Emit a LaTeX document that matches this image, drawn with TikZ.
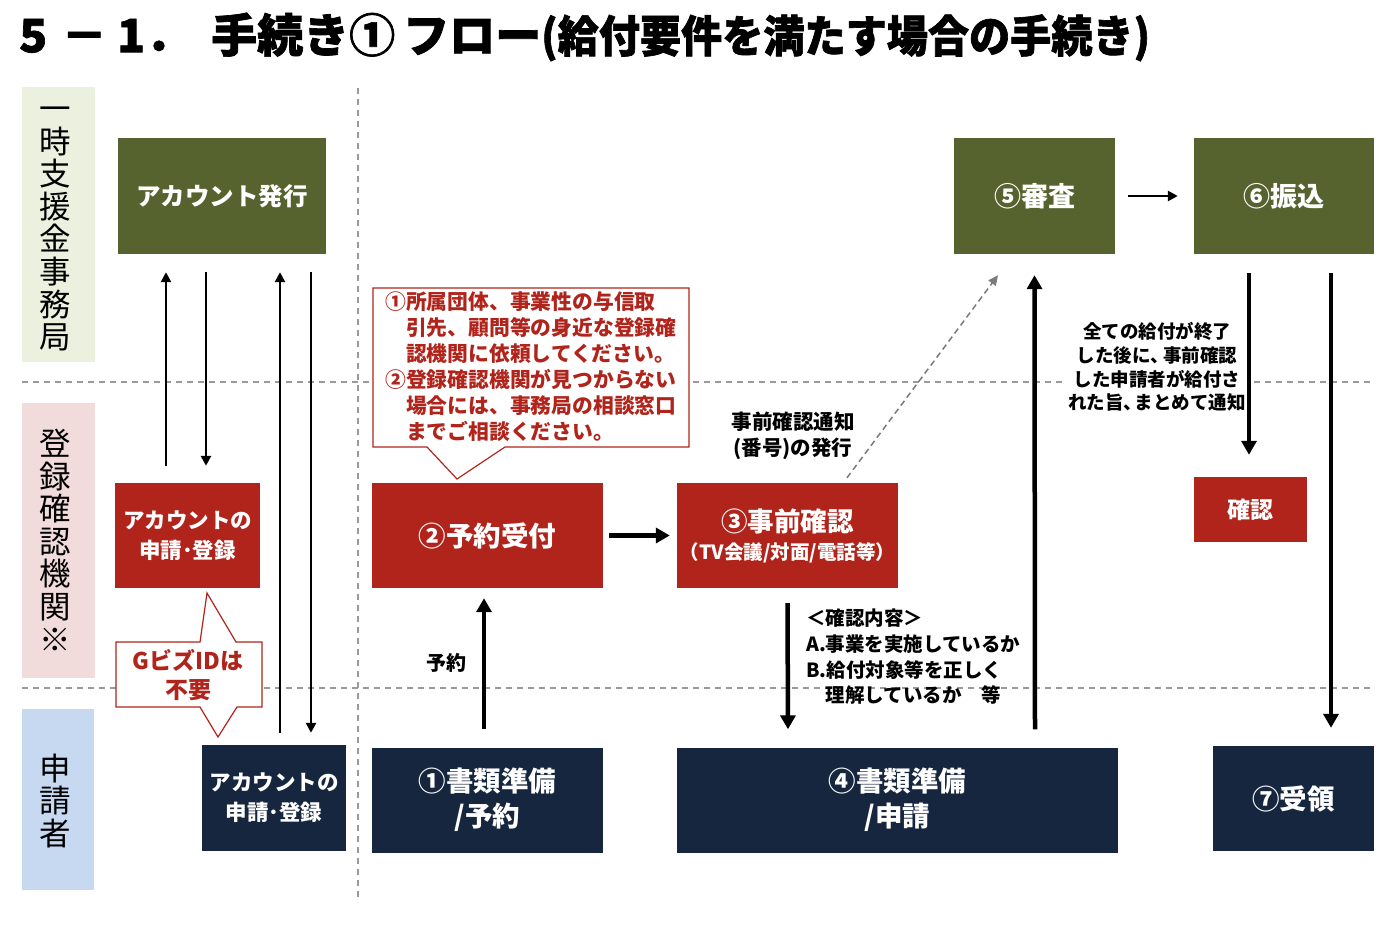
\documentclass[tikz,border=0pt]{standalone}
\usepackage{fontspec}
\setmainfont{Noto Sans CJK JP}
\usetikzlibrary{arrows.meta}
\definecolor{olive}{HTML}{56632F}
\definecolor{dred}{HTML}{B1241B}
\definecolor{navy}{HTML}{17263F}
\definecolor{lgreen}{HTML}{EBF1DE}
\definecolor{lpink}{HTML}{F2DCDB}
\definecolor{lblue}{HTML}{C6D9F1}
\definecolor{dgrey}{HTML}{9A9A9A}
\newcommand\fsz[2]{\fontsize{#1}{#2}\selectfont}
\begin{document}
\begin{tikzpicture}[x=1pt,y=-1pt,
  box/.style={inner sep=0pt, align=center, text=white, font=\bfseries},
  obox/.style={box, fill=olive},
  rbox/.style={box, fill=dred},
  nbox/.style={box, fill=navy},
  lanelab/.style={inner sep=0pt, align=center, font=\fsz{31.5}{32.6}},
  lanebox/.style={inner sep=0pt, minimum width=73pt},
  sep/.style={dgrey, line width=1.5pt, dash pattern=on 6pt off 5pt},
  tarr/.style={line width=2.5pt, -{Triangle[length=10pt,width=10pt]}},
  karr/.style={line width=4.5pt, -{Triangle[length=14pt,width=15pt]}},
  darr/.style={dgrey!80!black, line width=1.5pt, dash pattern=on 6pt off 4pt, -{Triangle[length=10pt,width=9pt]}},
  callout/.style={draw=dred, fill=white, line width=1.2pt},
  ctext/.style={inner sep=0pt, text=dred, font=\bfseries, align=left},
  btext/.style={inner sep=0pt, font=\bfseries, align=center}
]
\useasboundingbox (0,0) rectangle (1398,936);
\fill[white] (0,0) rectangle (1398,936);

% title
\node[anchor=west, inner sep=0pt, font=\bfseries\fsz{46}{46}\addfontfeatures{FakeBold=1.5}] (title) at (19,37)
  {5\hspace{14pt}－\hspace{10pt}1．\hspace{20pt}手続き①\hspace{8pt}フロー\scalebox{0.935}[1]{\fsz{44}{44}(給付要件を満たす場合の手続き)}};

% separators
\coordinate (h1a) at (22,382); \coordinate (h1b) at (1372,382);
\coordinate (h2a) at (22,688); \coordinate (h2b) at (1372,688);
\coordinate (v1a) at (358,88); \coordinate (v1b) at (358,902);
\draw[sep] (h1a) -- (h1b);
\draw[sep] (h2a) -- (h2b);
\draw[sep] (v1a) -- (v1b);

% lanes
\node[lanebox, fill=lgreen, minimum height=275pt] (laneA) at (58.5,224.5) {};
\node[lanelab] (laneAt) at (55,229) {一\\時\\支\\援\\金\\事\\務\\局};
\node[lanebox, fill=lpink, minimum height=275pt] (laneB) at (58.5,540.5) {};
\node[lanelab] (laneBt) at (55,540) {登\\録\\確\\認\\機\\関\\※};
\node[lanebox, fill=lblue, minimum height=181pt, minimum width=72pt] (laneC) at (58,799.5) {};
\node[lanelab] (laneCt) at (55,801) {申\\請\\者};

% boxes
\node[obox, minimum width=208pt, minimum height=116pt, font=\bfseries\fsz{24.5}{30}] (acct) at (222,196) {アカウント発行};
\node[obox, minimum width=161pt, minimum height=116pt, font=\bfseries\fsz{27}{32}] (shinsa) at (1034.5,196) {⑤審査};
\node[obox, minimum width=180pt, minimum height=116pt, font=\bfseries\fsz{27}{32}] (furi) at (1284,196) {⑥振込};

\node[rbox, minimum width=145pt, minimum height=105pt, font=\bfseries\fsz{21.5}{30}] (racct) at (187.5,535.5) {アカウントの\\申請･登録};
\node[rbox, minimum width=231pt, minimum height=105pt, font=\bfseries\fsz{27.5}{32}] (rsv) at (487.5,535.5) {②予約受付};
\node[rbox, minimum width=221pt, minimum height=105pt, font=\bfseries\fsz{26.5}{29}] (pre) at (787.5,535.5)
  {\raisebox{-3pt}{③事前確認}\\{\fsz{19.5}{29}\raisebox{-2pt}{（TV会議/対面/電話等）}}};
\node[rbox, minimum width=113pt, minimum height=65pt, font=\bfseries\fsz{23}{28}] (kakunin) at (1250.5,509.5) {確認};

\node[nbox, minimum width=144pt, minimum height=106pt, font=\bfseries\fsz{21.5}{30}] (nacct) at (274,798) {アカウントの\\申請･登録};
\node[nbox, minimum width=231pt, minimum height=105pt, font=\bfseries\fsz{27.5}{35}] (doc1) at (487.5,800) {①書類準備\\/予約};
\node[nbox, minimum width=441pt, minimum height=105pt, font=\bfseries\fsz{27.5}{35}] (doc4) at (897.5,800) {④書類準備\\/申請};
\node[nbox, minimum width=161pt, minimum height=105pt, font=\bfseries\fsz{27.5}{32}] (juryo) at (1293.5,798.5) {⑦受領};

% callouts
\draw[callout] (373,288) -- (689,288) -- (689,447) -- (505,447) -- (457,479) -- (427,447) -- (373,447) -- cycle;
\node[ctext, anchor=north west, font=\bfseries\fsz{20.8}{26}] (c1) at (385,291)
  {①所属団体、事業性の与信取\\
   \hspace*{1em}引先、顧問等の身近な登録確\\
   \hspace*{1em}認機関に依頼してください。\\
   ②登録確認機関が見つからない\\
   \hspace*{1em}場合には、事務局の相談窓口\\
   \hspace*{1em}までご相談ください。};

\draw[callout] (116,642) -- (200,642) -- (207,593) -- (236,642) -- (262,642) -- (262,707) -- (237,707) -- (218,737) -- (200,707) -- (116,707) -- cycle;
\node[ctext, align=center, font=\bfseries\fsz{23}{29}] (c2) at (188,675) {GビズIDは\\不要};

% labels
\node[btext, font=\bfseries\fsz{20.5}{26}] (l1) at (793,436) {事前確認通知\\(番号)の発行};
\node[btext, font=\bfseries\fsz{20}{26}] (l2) at (446,663) {予約};
\node[btext, anchor=north west, align=left, font=\bfseries\fsz{19.5}{25.7}] (l3) at (806,609)
  {＜確認内容＞\\A.事業を実施しているか\\B.給付対象等を正しく\\\hspace*{1em}理解しているか　等};
\node[btext, fill=white, inner sep=1pt, font=\bfseries\fsz{18.5}{23.7}] (l4) at (1157,367)
  {全ての給付が終了\\した後に、\kern-0.3em 事前確認\\した申請者が給付さ\\れた旨、\kern-0.4em まとめて通知};

% arrows
\draw[tarr] ([xshift=-21.5pt,yshift=17pt]racct.north) -- ([xshift=-56pt,yshift=-18pt]acct.south);
\draw[tarr] ([xshift=-16pt,yshift=-18pt]acct.south) -- ([xshift=18.5pt,yshift=17pt]racct.north);
\draw[tarr] ([xshift=6pt,yshift=12pt]nacct.north) -- ([xshift=58pt,yshift=-18pt]acct.south);
\draw[tarr] ([xshift=89pt,yshift=-18pt]acct.south) -- ([xshift=37pt,yshift=12pt]nacct.north);
\draw[karr] ([xshift=6pt]rsv.east) -- ([xshift=-7pt]pre.west);
\draw[karr] ([xshift=-3.5pt,yshift=18pt]doc1.north) -- ([xshift=-3.5pt,yshift=-10pt]rsv.south);
\draw[karr] ([yshift=-15pt]pre.south) -- ([xshift=-109.5pt,yshift=18pt]doc4.north);
\draw[karr] ([xshift=137.5pt,yshift=18pt]doc4.north) -- ([yshift=-21pt]shinsa.south);
\draw[tarr] ([xshift=13pt]shinsa.east) -- ([xshift=-16pt]furi.west);
\draw[karr] ([xshift=-35pt,yshift=-19pt]furi.south) -- ([xshift=-1.5pt,yshift=22pt]kakunin.north);
\draw[karr] ([xshift=47pt,yshift=-19pt]furi.south) -- ([xshift=37.5pt,yshift=18pt]juryo.north);
\draw[darr] ([xshift=59.5pt,yshift=5pt]pre.north) -- ([xshift=-36.5pt,yshift=-21pt]shinsa.south);
\end{tikzpicture}
\end{document}
